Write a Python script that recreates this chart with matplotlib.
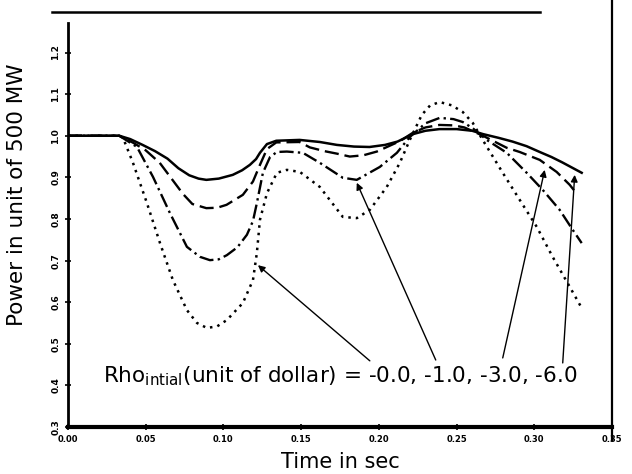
import matplotlib
matplotlib.use("Agg")
import matplotlib.pyplot as plt
from matplotlib.lines import Line2D

# values
t_00 = [0, 0.033, 0.040, 0.048, 0.056, 0.064, 0.071, 0.078, 0.084, 0.089, 0.097, 0.106, 0.112, 0.117, 0.121,
        0.1235, 0.128, 0.134, 0.149, 0.162, 0.173, 0.184, 0.194, 0.204, 0.212, 0.222, 0.230, 0.239,
        0.250, 0.260, 0.267, 0.277, 0.286, 0.295, 0.3035, 0.311, 0.318, 0.3305]
p_00 = [1.0, 1.0, 0.992, 0.978, 0.963, 0.945, 0.922, 0.905, 0.897, 0.894, 0.897, 0.906, 0.917, 0.930, 0.944,
        0.959, 0.980, 0.988, 0.990, 0.985, 0.978, 0.974, 0.973, 0.978, 0.986, 1.004, 1.012, 1.016,
        1.016, 1.012, 1.004, 0.995, 0.986, 0.975, 0.961, 0.949, 0.936, 0.911]

t_10 = [0, 0.033, 0.042, 0.050, 0.059, 0.067, 0.074, 0.080, 0.089, 0.096, 0.102, 0.1125, 0.119, 0.1235,
        0.128, 0.134, 0.149, 0.1556, 0.165, 0.173, 0.1813, 0.190, 0.1987, 0.2135, 0.2218, 0.230, 0.239,
        0.248, 0.255, 0.267, 0.2823, 0.2906, 0.3035, 0.3144, 0.3228, 0.3279]
p_10 = [1.0, 1.0, 0.983, 0.965, 0.935, 0.895, 0.860, 0.836, 0.826, 0.827, 0.834, 0.858, 0.890, 0.930,
        0.968, 0.984, 0.985, 0.972, 0.963, 0.957, 0.950, 0.953, 0.962, 0.987, 1.007, 1.020, 1.026,
        1.025, 1.020, 1.000, 0.971, 0.961, 0.942, 0.913, 0.882, 0.858]

t_30 = [0, 0.033, 0.0444, 0.0547, 0.0656, 0.0765, 0.0849, 0.0913, 0.0970, 0.1022, 0.1090, 0.1151, 0.1190,
        0.1215, 0.1254, 0.13, 0.1344, 0.1408, 0.1511, 0.162, 0.1768, 0.1858, 0.2006, 0.2116, 0.2199,
        0.2300, 0.2392, 0.2480, 0.2540, 0.2604, 0.2694, 0.2823, 0.2951, 0.3054, 0.3163, 0.3247, 0.3305]
p_30 = [1.0, 1.0, 0.973, 0.901, 0.814, 0.733, 0.709, 0.701, 0.703, 0.713, 0.732, 0.762, 0.795,
        0.838, 0.911, 0.949, 0.961, 0.962, 0.959, 0.935, 0.899, 0.894, 0.925, 0.959, 0.997,
        1.030, 1.043, 1.040, 1.033, 1.018, 0.990, 0.959, 0.911, 0.870, 0.822, 0.774, 0.742]

t_60 = [0, 0.033, 0.0354, 0.0418, 0.0508, 0.0592, 0.0675, 0.0765, 0.0830, 0.0894, 0.0960, 0.1022, 0.1125,
        0.119, 0.1215, 0.1235, 0.128, 0.1344, 0.1408, 0.1492, 0.162, 0.1768, 0.1858, 0.1942, 0.2051,
        0.2135, 0.2199, 0.2276, 0.2330, 0.2392, 0.2470, 0.254, 0.2604, 0.2668, 0.2797, 0.2906,
        0.3016, 0.3118, 0.3228, 0.3305]
p_60 = [1.0, 1.0, 0.995, 0.935, 0.838, 0.742, 0.653, 0.581, 0.550, 0.538, 0.542, 0.557, 0.598,
        0.653, 0.718, 0.798, 0.862, 0.911, 0.918, 0.913, 0.877, 0.805, 0.802, 0.822, 0.877,
        0.935, 0.990, 1.050, 1.073, 1.081, 1.073, 1.057, 1.031, 0.990, 0.911, 0.846,
        0.781, 0.709, 0.637, 0.586]

# arrow tips and tails (data units), from the annotation text to the curves
arrow_heads = [(0.1222, 0.689), (0.1858, 0.887), (0.3067, 0.918), (0.3260, 0.906)]
arrow_tails = [(0.1942, 0.459), (0.2366, 0.461), (0.2797, 0.466), (0.3183, 0.454)]

x_ticks = [0.00, 0.05, 0.10, 0.15, 0.20, 0.25, 0.30, 0.35]
y_ticks = [0.3, 0.4, 0.5, 0.6, 0.7, 0.8, 0.9, 1.0, 1.1, 1.2]

fig = plt.figure(figsize=(6.32, 4.74), dpi=100)
ax = fig.add_axes([68 / 632, 47 / 474, 544 / 632, 404 / 474])

ax.plot(t_00, p_00, color="black", lw=1.8, ls="-")
ax.plot(t_10, p_10, color="black", lw=1.7, ls=(0, (6, 2.5)))
ax.plot(t_30, p_30, color="black", lw=1.7, ls=(0, (6, 1.8, 1, 1.8)))
ax.plot(t_60, p_60, color="black", lw=1.8, ls=(0, (1, 2)))

for head, tail in zip(arrow_heads, arrow_tails):
    ax.annotate("", xy=head, xytext=tail,
                arrowprops=dict(arrowstyle="-|>", color="black", lw=1.0, mutation_scale=10,
                                shrinkA=0, shrinkB=0))

ax.text(0.175, 0.423, r"Rho$_{\mathrm{intial}}$(unit of dollar) = -0.0, -1.0, -3.0, -6.0",
        ha="center", va="center", fontsize=15.5)

ax.set_xlim(0, 0.35)
ax.set_ylim(0.3, 1.271)
ax.set_xticks(x_ticks)
ax.set_yticks(y_ticks)
ax.set_xticklabels(["%.2f" % v for v in x_ticks], fontsize=6, fontweight="bold")
ax.set_yticklabels(["%.1f" % v for v in y_ticks], fontsize=6.5, fontweight="bold",
                   rotation=90, va="center")
ax.tick_params(axis="both", direction="inout", length=5, width=1.2, pad=3)

ax.spines["top"].set_visible(False)
ax.spines["right"].set_visible(False)
ax.spines["left"].set_linewidth(2)
ax.spines["bottom"].set_linewidth(3)

ax.set_xlabel("Time in sec", fontsize=15, labelpad=6)
ax.set_ylabel("Power in unit of 500 MW", fontsize=15.5)
ax.yaxis.set_label_coords(-0.075, 0.575)

# scan borders: right edge and top rule
fig.add_artist(Line2D([612 / 632, 612 / 632], [1.0, 34 / 474], color="black", lw=1.6))
fig.add_artist(Line2D([52 / 632, 540 / 632], [1 - 12 / 474, 1 - 12 / 474], color="black", lw=1.8))

fig.savefig("out.png", dpi=100)
